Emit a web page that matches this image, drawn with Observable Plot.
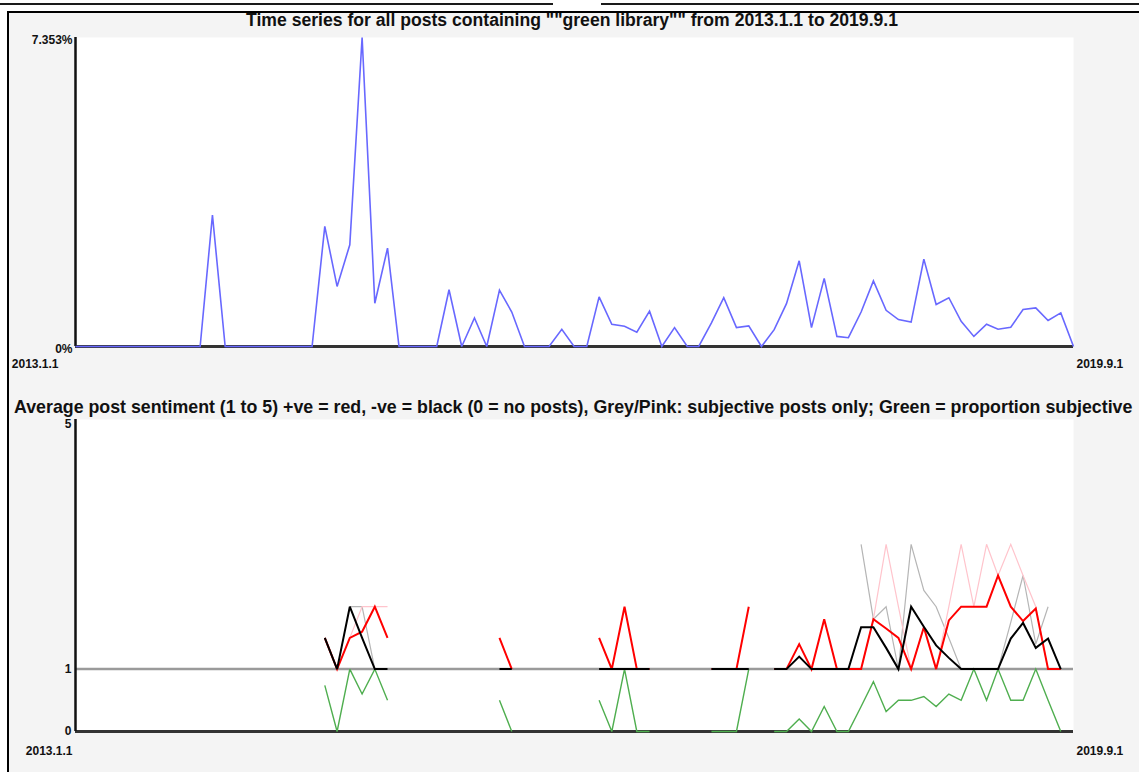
<!DOCTYPE html>
<html>
<head>
<meta charset="utf-8">
<script src="https://cdn.jsdelivr.net/npm/d3@7"></script>
<script src="https://cdn.jsdelivr.net/npm/@observablehq/plot@0.6"></script>
<style>
  html, body { margin: 0; padding: 0; background: #ffffff; }
  #page { position: relative; width: 1139px; height: 772px; overflow: hidden; background: #ffffff; }
  #panel { position: absolute; left: 9px; top: 13px; right: 0; bottom: 0; background: #f4f4f4; }
  .rule { position: absolute; background: #1a1a1a; }
  .title { position: absolute; font-family: "Liberation Sans", Arial, sans-serif; font-weight: bold; color: #111; white-space: nowrap; line-height: 20px; }
  .chart { position: absolute; left: 0; }
</style>
</head>
<body>
<div id="page">
  <div id="panel"></div>
  <div class="rule" style="left:0;top:3px;width:553px;height:2px;"></div>
  <div class="rule" style="left:601px;top:3px;right:0;height:2px;"></div>
  <div class="rule" style="left:7px;top:11px;right:0;height:2px;background:#000;"></div>
  <div class="rule" style="left:7px;top:11px;width:2px;bottom:0;background:#000;"></div>
  <div class="title" id="t1" style="left:72px;width:1000px;top:10px;text-align:center;font-size:17.6px;"></div>
  <div class="chart" id="c1" style="top:28px;"></div>
  <div class="title" id="t2" style="left:14px;top:397px;font-size:17.8px;"></div>
  <div class="chart" id="c2" style="top:410px;"></div>
</div>
<script>
// ---------- data ----------
const title1 = 'Time series for all posts containing ""green library"" from 2013.1.1 to 2019.9.1';
const title2 = 'Average post sentiment (1 to 5) +ve = red, -ve = black (0 = no posts), Grey/Pink: subjective posts only; Green = proportion subjective';

const startMonth = "2013-01-01";
const endMonth = "2019-09-01";
const xTickLabels = ["2013.1.1", "2019.9.1"];

const volumeTicks = [0, 7.353];
const volumeTickLabels = ["0%", "7.353%"];
const sentimentTicks = [0, 1, 5];
const sentimentTickLabels = ["0", "1", "5"];

// % of posts per month, 2013.1 .. 2019.9 (81 months)
const volume = [
  0, 0, 0, 0, 0, 0, 0, 0, 0, 0,
  0, 3.13, 0, 0, 0, 0, 0, 0, 0, 0,
  2.86, 1.43, 2.42, 7.353, 1.03, 2.34, 0, 0, 0, 0,
  1.35, 0, 0.68, 0, 1.34, 0.82, 0, 0, 0, 0.41,
  0, 0, 1.18, 0.53, 0.48, 0.34, 0.84, 0, 0.45, 0,
  0, 0.56, 1.16, 0.45, 0.49, 0, 0.40, 1.02, 2.04, 0.45,
  1.62, 0.24, 0.21, 0.82, 1.56, 0.86, 0.64, 0.58, 2.08, 1.00,
  1.16, 0.60, 0.24, 0.53, 0.41, 0.46, 0.88, 0.92, 0.62, 0.80,
  0
];

const _ = null;
// average positive sentiment (red)
const positive = [
  _, _, _, _, _, _, _, _, _, _,
  _, 1, _, _, _, _, _, _, _, _,
  1.5, 1, 1.5, 1.6, 2, 1.5, _, _, _, _,
  1, _, 1, _, 1.5, 1, _, _, _, 1,
  _, _, 1.5, 1, 2, 1, 1, _, 1, _,
  _, 1, 1, 1, 2, _, 1, 1, 1.4, 1,
  1.8, 1, 1, 1, 1.8, 1.65, 1.5, 1, 1.67, 1,
  1.78, 2, 2, 2, 2.5, 2, 1.77, 1.97, 1, 1,
  _
];
// average negative sentiment (black)
const negative = [
  _, _, _, _, _, _, _, _, _, _,
  _, 1, _, _, _, _, _, _, _, _,
  1.5, 1, 2, 1.5, 1, 1, _, _, _, _,
  1, _, 1, _, 1, 1, _, _, _, 1,
  _, _, 1, 1, 1, 1, 1, _, 1, _,
  _, 1, 1, 1, 1, _, 1, 1, 1.2, 1,
  1, 1, 1, 1.67, 1.67, 1.34, 1, 2, 1.68, 1.38,
  1.18, 1, 1, 1, 1, 1.49, 1.74, 1.34, 1.49, 1,
  _
];
// positive sentiment, subjective posts only (pink)
const subjPositive = [
  _, _, _, _, _, _, _, _, _, _,
  _, _, _, _, _, _, _, _, _, _,
  _, _, 1.5, 2, 2, 2, _, _, _, _,
  _, _, _, _, _, _, _, _, _, _,
  _, _, _, _, _, _, _, _, _, _,
  _, _, _, _, _, _, _, _, _, _,
  _, _, _, 1, 1.8, 3, 2, 1, 1.67, 1,
  2, 3, 2, 3, 2.5, 3, 2.5, 2, 1, _,
  _
];
// negative sentiment, subjective posts only (grey)
const subjNegative = [
  _, _, _, _, _, _, _, _, _, _,
  _, _, _, _, _, _, _, _, _, _,
  _, _, 2, 2, 1, 1, _, _, _, _,
  _, _, _, _, _, _, _, _, _, _,
  _, _, _, _, _, _, _, _, _, _,
  _, _, _, _, _, _, _, _, _, _,
  _, _, _, 3, 1.8, 2, 1, 3, 2.26, 2,
  1.5, 1, 1, 1, 1, 1.75, 2.5, 1.4, 2, _,
  _
];
// proportion of subjective posts (green)
const subjective = [
  _, _, _, _, _, _, _, _, _, _,
  _, 0, _, _, _, _, _, _, _, _,
  0.74, 0, 1, 0.6, 1, 0.5, _, _, _, _,
  0, _, 0, _, 0.5, 0, _, _, _, 0,
  _, _, 0.5, 0, 1, 0, 0, _, 0, _,
  _, 0, 0, 0, 1, _, 0, 0, 0.2, 0,
  0.4, 0, 0, 0.4, 0.8, 0.32, 0.5, 0.5, 0.56, 0.4,
  0.6, 0.5, 1, 0.5, 1, 0.5, 0.5, 1, 0.5, 0,
  _
];

// ---------- build ----------
const t0 = new Date(startMonth + "T00:00:00Z");
const t1 = new Date(endMonth + "T00:00:00Z");
const months = d3.utcMonths(t0, d3.utcMonth.offset(t1, 1));
const rows = months.map((m, i) => ({
  m, volume: volume[i], positive: positive[i], negative: negative[i],
  subjPositive: subjPositive[i], subjNegative: subjNegative[i], subjective: subjective[i]
}));

document.getElementById("t1").textContent = title1;
document.getElementById("t2").textContent = title2;

const fontStyle = {
  background: "none",
  fontFamily: "'Liberation Sans', Arial, sans-serif",
  fontSize: "12px",
  fontWeight: "bold",
  color: "#111",
  overflow: "visible"
};

const xLabelFmt = d => +d === +t0 ? xTickLabels[0] : xTickLabels[1];
const sentFmt = d => sentimentTickLabels[sentimentTicks.indexOf(d)];
const lineOpts = {x: "m", strokeLinecap: "butt", strokeLinejoin: "miter", strokeMiterlimit: 3};

const topChart = Plot.plot({
  width: 1139, height: 348,
  marginLeft: 75, marginRight: 66, marginTop: 9, marginBottom: 30,
  style: fontStyle,
  x: {type: "utc", domain: [t0, t1]},
  y: {domain: [0, 7.353]},
  marks: [
    Plot.frame({fill: "white", stroke: null}),
    Plot.ruleY([0], {stroke: "#333", strokeWidth: 3}),
    Plot.ruleX([t0], {stroke: "#111", strokeWidth: 2.5}),
    Plot.line(rows, {...lineOpts, y: "volume", stroke: "#6868ff", strokeWidth: 1.6}),
    Plot.axisY(volumeTicks, {label: null, tickSize: 0, tickPadding: 3, dy: 3, tickFormat: d => volumeTickLabels[volumeTicks.indexOf(d)]}),
    Plot.axisX([t0], {label: null, tickSize: 0, textAnchor: "end", dx: -17, tickPadding: 13, tickFormat: xLabelFmt}),
    Plot.axisX([t1], {label: null, tickSize: 0, textAnchor: "start", dx: 3, tickPadding: 13, tickFormat: xLabelFmt})
  ]
});
document.getElementById("c1").appendChild(topChart);

const bottomChart = Plot.plot({
  width: 1139, height: 351,
  marginLeft: 75, marginRight: 66, marginTop: 9, marginBottom: 30,
  style: fontStyle,
  x: {type: "utc", domain: [t0, t1]},
  y: {domain: [0, 5]},
  marks: [
    Plot.frame({fill: "white", stroke: null}),
    Plot.ruleY([1], {stroke: "#9a9a9a", strokeWidth: 2.5}),
    Plot.ruleY([0], {stroke: "#333", strokeWidth: 3}),
    Plot.ruleX([t0], {stroke: "#111", strokeWidth: 2.5}),
    Plot.line(rows, {...lineOpts, y: "subjective", stroke: "#4fae4f", strokeWidth: 1.4}),
    Plot.line(rows, {...lineOpts, y: "subjNegative", stroke: "#b5b5b5", strokeWidth: 1.2}),
    Plot.line(rows, {...lineOpts, y: "subjPositive", stroke: "#ffc4cc", strokeWidth: 1.2}),
    Plot.line(rows, {...lineOpts, y: "positive", stroke: "#ff0000", strokeWidth: 2}),
    Plot.line(rows, {...lineOpts, y: "negative", stroke: "#000000", strokeWidth: 2}),
    Plot.axisY(sentimentTicks.slice(0, 2), {label: null, tickSize: 0, tickPadding: 4, dy: 0, tickFormat: sentFmt}),
    Plot.axisY(sentimentTicks.slice(2), {label: null, tickSize: 0, tickPadding: 4, dy: 5, tickFormat: sentFmt}),
    Plot.axisX([t0], {label: null, tickSize: 0, textAnchor: "end", dx: -3, tickPadding: 15, tickFormat: xLabelFmt}),
    Plot.axisX([t1], {label: null, tickSize: 0, textAnchor: "start", dx: 3, tickPadding: 15, tickFormat: xLabelFmt})
  ]
});
document.getElementById("c2").appendChild(bottomChart);
</script>
</body>
</html>
